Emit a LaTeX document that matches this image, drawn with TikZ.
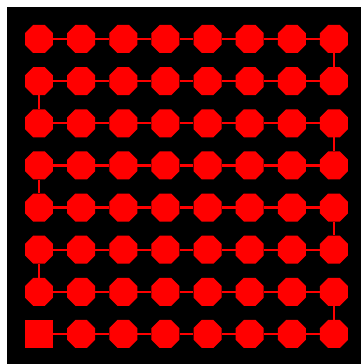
\documentclass[tikz,border=0pt]{standalone}
\usetikzlibrary{shapes.geometric}
\begin{document}
\begin{tikzpicture}[x=1pt,y=1pt,
  oct/.style={regular polygon,regular polygon sides=8,fill=red,draw=none,inner sep=0pt,minimum size=30.3pt},
  sq/.style={rectangle,fill=red,draw=none,inner sep=0pt,minimum size=28pt},
  link/.style={draw=red,line width=2.2pt}]
\useasboundingbox (0,0) rectangle (361,364);
\fill[white] (0,0) rectangle (361,364);
\fill[black] (7,0) rectangle (361,357);
\foreach \r in {1,...,8}{
  \foreach \c in {1,...,8}{
    \pgfmathsetmacro{\px}{39+42.14*(\c-1)}
    \pgfmathsetmacro{\py}{364-39-42.14*(\r-1)}
    \ifnum\r=8 \ifnum\c=1
      \node[sq] (n-\r-\c) at (\px,\py) {};
    \else
      \node[oct] (n-\r-\c) at (\px,\py) {};
    \fi
    \else
      \node[oct] (n-\r-\c) at (\px,\py) {};
    \fi
  }
}
\foreach \r in {1,...,8}{
  \foreach \c [evaluate=\c as \cn using int(\c+1)] in {1,...,7}{
    \draw[link] (n-\r-\c) -- (n-\r-\cn);
  }
}
\foreach \a/\b in {1/2,3/4,5/6,7/8}{\draw[link] (n-\a-8) -- (n-\b-8);}
\foreach \a/\b in {2/3,4/5,6/7}{\draw[link] (n-\a-1) -- (n-\b-1);}
\end{tikzpicture}
\end{document}
